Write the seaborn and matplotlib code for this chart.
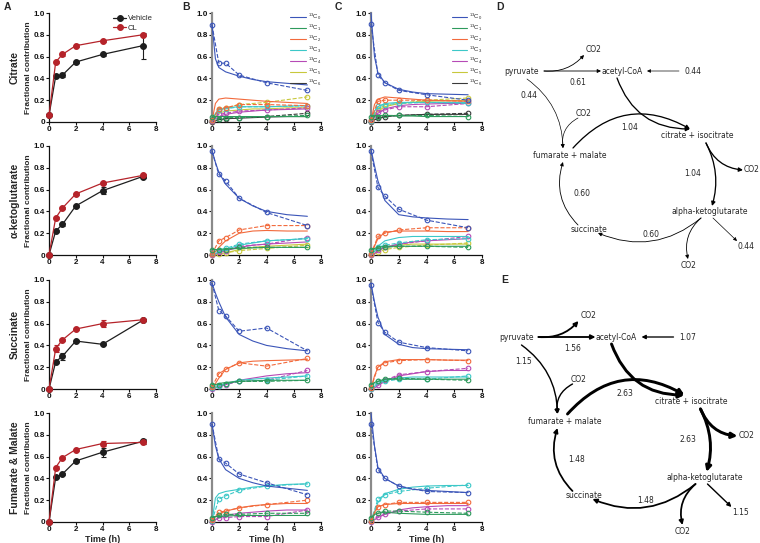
import matplotlib
matplotlib.use('Agg')
import matplotlib.pyplot as plt
import seaborn as sns

# ---------------- data ----------------
TIMES = [0, 0.5, 1, 2, 4, 7]
FIT_T = [0, 0.25, 0.5, 1, 2, 3, 4, 5.5, 7]
METABOLITES = ['Citrate', 'α-ketoglutarate', 'Succinate', 'Fumarate & Malate']
X_TICKS = [0, 2, 4, 6, 8]
Y_TICKS = [0, 0.2, 0.4, 0.6, 0.8, 1.0]
Y_TICK_LABELS = ['0', '0.2', '0.4', '0.6', '0.8', '1.0']

# Panel A: fractional contribution (mean, error)
veh_citrate = [0.06, 0.42, 0.43, 0.55, 0.62, 0.70]
veh_citrate_err = [0, 0.01, 0.02, 0.01, 0.01, 0.12]
cl_citrate = [0.06, 0.55, 0.62, 0.70, 0.745, 0.80]
cl_citrate_err = [0, 0.01, 0.01, 0.015, 0.01, 0.01]
veh_akg = [0.0, 0.22, 0.28, 0.45, 0.59, 0.72]
veh_akg_err = [0, 0.01, 0.01, 0.01, 0.03, 0.01]
cl_akg = [0.0, 0.34, 0.43, 0.56, 0.66, 0.73]
cl_akg_err = [0, 0.01, 0.01, 0.01, 0.01, 0.01]
veh_succ = [0.0, 0.25, 0.30, 0.44, 0.41, 0.63]
veh_succ_err = [0, 0.01, 0.03, 0.01, 0.01, 0.01]
cl_succ = [0.0, 0.37, 0.45, 0.55, 0.60, 0.635]
cl_succ_err = [0, 0.03, 0.01, 0.01, 0.03, 0.01]
veh_fum = [0.0, 0.41, 0.44, 0.56, 0.64, 0.74]
veh_fum_err = [0, 0.01, 0.01, 0.01, 0.04, 0.02]
cl_fum = [0.0, 0.50, 0.59, 0.665, 0.72, 0.73]
cl_fum_err = [0, 0.01, 0.01, 0.01, 0.02, 0.01]

# Panels B (vehicle) and C (CL): isotopologue fits (solid) and measurements (dashed)
b_citrate_fit = [
    [0.90, 0.58, 0.50, 0.46, 0.42, 0.39, 0.37, 0.355, 0.34],
    [0.04, 0.05, 0.05, 0.05, 0.05, 0.05, 0.05, 0.05, 0.05],
    [0.01, 0.17, 0.21, 0.22, 0.21, 0.20, 0.19, 0.18, 0.17],
    [0.01, 0.08, 0.11, 0.13, 0.14, 0.14, 0.14, 0.145, 0.15],
    [0.0, 0.03, 0.05, 0.07, 0.09, 0.10, 0.11, 0.115, 0.12],
    [0.0, 0.05, 0.08, 0.10, 0.11, 0.12, 0.12, 0.13, 0.13],
    [0.0, 0.01, 0.02, 0.03, 0.035, 0.04, 0.045, 0.05, 0.05]]
b_citrate_meas = [
    [0.89, 0.54, 0.54, 0.43, 0.36, 0.29],
    [0.05, 0.03, 0.04, 0.04, 0.05, 0.06],
    [0.02, 0.12, 0.13, 0.16, 0.16, 0.15],
    [0.02, 0.11, 0.12, 0.14, 0.14, 0.15],
    [0.01, 0.07, 0.08, 0.10, 0.11, 0.13],
    [0.01, 0.12, 0.13, 0.16, 0.18, 0.23],
    [0.00, 0.03, 0.03, 0.04, 0.05, 0.08]]
c_citrate_fit = [
    [1.0, 0.60, 0.45, 0.36, 0.30, 0.275, 0.26, 0.255, 0.25],
    [0.06, 0.06, 0.06, 0.06, 0.055, 0.055, 0.05, 0.05, 0.05],
    [0.01, 0.16, 0.21, 0.23, 0.22, 0.21, 0.20, 0.195, 0.19],
    [0.01, 0.10, 0.14, 0.17, 0.18, 0.18, 0.18, 0.18, 0.18],
    [0.0, 0.04, 0.08, 0.12, 0.15, 0.16, 0.165, 0.17, 0.17],
    [0.0, 0.06, 0.10, 0.14, 0.17, 0.18, 0.19, 0.195, 0.20],
    [0.0, 0.02, 0.03, 0.05, 0.06, 0.065, 0.07, 0.07, 0.07]]
c_citrate_meas = [
    [0.90, 0.43, 0.36, 0.29, 0.25, 0.20],
    [0.05, 0.05, 0.06, 0.06, 0.06, 0.05],
    [0.02, 0.19, 0.20, 0.20, 0.20, 0.19],
    [0.01, 0.15, 0.16, 0.17, 0.18, 0.17],
    [0.01, 0.09, 0.11, 0.14, 0.14, 0.17],
    [0.01, 0.12, 0.15, 0.17, 0.20, 0.22],
    [0.00, 0.04, 0.05, 0.06, 0.07, 0.08]]
b_akg_fit = [
    [0.96, 0.85, 0.76, 0.65, 0.52, 0.45, 0.40, 0.37, 0.355],
    [0.05, 0.05, 0.05, 0.055, 0.06, 0.065, 0.07, 0.07, 0.07],
    [0.0, 0.03, 0.07, 0.13, 0.20, 0.22, 0.225, 0.22, 0.22],
    [0.0, 0.01, 0.03, 0.05, 0.09, 0.11, 0.13, 0.14, 0.15],
    [0.0, 0.01, 0.02, 0.04, 0.07, 0.09, 0.10, 0.11, 0.12],
    [0.0, 0.0, 0.01, 0.02, 0.05, 0.07, 0.08, 0.09, 0.10]]
b_akg_meas = [
    [0.95, 0.74, 0.68, 0.52, 0.39, 0.27],
    [0.05, 0.05, 0.05, 0.07, 0.07, 0.07],
    [0.01, 0.13, 0.16, 0.23, 0.27, 0.27],
    [0.01, 0.05, 0.06, 0.10, 0.13, 0.15],
    [0.00, 0.03, 0.04, 0.08, 0.10, 0.16],
    [0.00, 0.01, 0.02, 0.04, 0.06, 0.09]]
c_akg_fit = [
    [0.97, 0.82, 0.68, 0.50, 0.37, 0.35, 0.34, 0.33, 0.325],
    [0.05, 0.06, 0.07, 0.08, 0.08, 0.08, 0.08, 0.08, 0.08],
    [0.0, 0.08, 0.15, 0.21, 0.22, 0.22, 0.22, 0.215, 0.215],
    [0.0, 0.03, 0.08, 0.13, 0.16, 0.17, 0.17, 0.17, 0.17],
    [0.0, 0.01, 0.04, 0.07, 0.10, 0.12, 0.13, 0.14, 0.15],
    [0.0, 0.01, 0.04, 0.07, 0.09, 0.10, 0.10, 0.10, 0.10]]
c_akg_meas = [
    [0.95, 0.62, 0.54, 0.42, 0.32, 0.25],
    [0.05, 0.06, 0.07, 0.08, 0.08, 0.07],
    [0.01, 0.17, 0.20, 0.23, 0.25, 0.25],
    [0.01, 0.07, 0.09, 0.11, 0.14, 0.15],
    [0.00, 0.05, 0.07, 0.10, 0.13, 0.17],
    [0.00, 0.03, 0.05, 0.07, 0.09, 0.11]]
b_succ_fit = [
    [0.97, 0.88, 0.80, 0.66, 0.50, 0.44, 0.40, 0.37, 0.35],
    [0.04, 0.04, 0.05, 0.06, 0.07, 0.075, 0.08, 0.08, 0.08],
    [0.0, 0.05, 0.10, 0.18, 0.24, 0.255, 0.26, 0.265, 0.27],
    [0.0, 0.01, 0.03, 0.05, 0.08, 0.09, 0.10, 0.11, 0.12],
    [0.0, 0.01, 0.02, 0.04, 0.08, 0.10, 0.12, 0.14, 0.15]]
b_succ_meas = [
    [0.97, 0.72, 0.67, 0.53, 0.56, 0.35],
    [0.04, 0.04, 0.05, 0.07, 0.07, 0.08],
    [0.02, 0.14, 0.18, 0.24, 0.21, 0.28],
    [0.01, 0.03, 0.05, 0.07, 0.08, 0.12],
    [0.00, 0.03, 0.04, 0.07, 0.08, 0.17]]
c_succ_fit = [
    [0.97, 0.80, 0.66, 0.50, 0.41, 0.38, 0.37, 0.365, 0.36],
    [0.04, 0.06, 0.07, 0.09, 0.09, 0.09, 0.09, 0.09, 0.09],
    [0.0, 0.12, 0.20, 0.25, 0.27, 0.27, 0.27, 0.265, 0.265],
    [0.0, 0.02, 0.05, 0.08, 0.10, 0.11, 0.11, 0.11, 0.11],
    [0.0, 0.01, 0.03, 0.07, 0.12, 0.14, 0.16, 0.17, 0.17]]
c_succ_meas = [
    [0.95, 0.61, 0.52, 0.43, 0.38, 0.35],
    [0.04, 0.07, 0.09, 0.10, 0.09, 0.08],
    [0.01, 0.20, 0.24, 0.26, 0.27, 0.26],
    [0.00, 0.07, 0.07, 0.09, 0.09, 0.12],
    [0.00, 0.04, 0.08, 0.13, 0.16, 0.19]]
b_fum_fit = [
    [0.90, 0.70, 0.58, 0.48, 0.40, 0.36, 0.33, 0.31, 0.29],
    [0.04, 0.05, 0.05, 0.055, 0.06, 0.06, 0.06, 0.06, 0.06],
    [0.0, 0.05, 0.07, 0.10, 0.13, 0.15, 0.16, 0.17, 0.17],
    [0.0, 0.22, 0.26, 0.28, 0.30, 0.32, 0.33, 0.345, 0.35],
    [0.0, 0.02, 0.04, 0.06, 0.08, 0.09, 0.10, 0.11, 0.11]]
b_fum_meas = [
    [0.90, 0.58, 0.54, 0.44, 0.36, 0.25],
    [0.04, 0.06, 0.07, 0.07, 0.08, 0.08],
    [0.02, 0.09, 0.10, 0.13, 0.16, 0.20],
    [0.01, 0.21, 0.24, 0.29, 0.33, 0.35],
    [0.00, 0.04, 0.04, 0.05, 0.05, 0.11]]
c_fum_fit = [
    [1.0, 0.70, 0.50, 0.40, 0.33, 0.30, 0.29, 0.28, 0.27],
    [0.04, 0.07, 0.08, 0.09, 0.08, 0.075, 0.07, 0.07, 0.07],
    [0.0, 0.09, 0.14, 0.16, 0.17, 0.17, 0.17, 0.17, 0.17],
    [0.0, 0.09, 0.18, 0.26, 0.30, 0.32, 0.33, 0.335, 0.335],
    [0.0, 0.02, 0.04, 0.07, 0.11, 0.13, 0.14, 0.15, 0.15]]
c_fum_meas = [
    [0.90, 0.48, 0.40, 0.33, 0.28, 0.27],
    [0.04, 0.08, 0.10, 0.10, 0.09, 0.08],
    [0.01, 0.14, 0.16, 0.18, 0.18, 0.18],
    [0.01, 0.21, 0.25, 0.28, 0.31, 0.34],
    [0.00, 0.05, 0.07, 0.10, 0.12, 0.12]]

ISO_LABELS = [r'$^{13}$C$_{%d}$' % i for i in range(7)]

# Panels D (vehicle) and E (CL): fluxes
FLUX_NAMES = ['PDH', 'PC', 'AcCoA influx', 'CS', 'IDH', 'AKGDH', 'SDH', 'AKG efflux']
flux_d = [0.61, 0.44, 0.44, 1.04, 1.04, 0.60, 0.60, 0.44]
flux_e = [1.56, 1.15, 1.07, 2.63, 2.63, 1.48, 1.48, 1.15]

# ---------------- style ----------------
sns.set_theme(style='ticks')
plt.rcParams['font.family'] = ['Liberation Sans', 'DejaVu Sans']
plt.rcParams['mathtext.fontset'] = 'custom'
plt.rcParams['mathtext.rm'] = 'Liberation Sans'

ISO_COLORS = ['#3b55b8', '#2e9a5c', '#f26a3c', '#3cc8c8', '#b64ab6', '#c8c83c', '#3a3a3a']
VEH_COLOR = '#1e1e1e'
CL_COLOR = '#b5232a'

W, H = 760, 543
fig = plt.figure(figsize=(W / 100, H / 100), dpi=100)


def add_ax(x0, top, w, h):
    return fig.add_axes([x0 / W, 1 - (top + h) / H, w / W, h / H])


def style_ax(ax, gray_left=False):
    ax.set_xlim(0, 8)
    ax.set_ylim(0, 1.0)
    ax.set_xticks(X_TICKS)
    ax.set_xticklabels([str(t) for t in X_TICKS])
    ax.set_yticks(Y_TICKS)
    ax.set_yticklabels(Y_TICK_LABELS)
    sns.despine(ax=ax)
    for lab in ax.get_xticklabels() + ax.get_yticklabels():
        lab.set_fontweight('bold')
        lab.set_fontsize(5.8)
    ax.tick_params(length=2, width=0.8, pad=1, colors='#111111')
    ax.spines['bottom'].set_linewidth(0.9)
    ax.spines['bottom'].set_color('#111111')
    if gray_left:
        ax.spines['left'].set_linewidth(1.6)
        ax.spines['left'].set_color('#8a8a8a')
    else:
        ax.spines['left'].set_linewidth(0.9)
        ax.spines['left'].set_color('#111111')
    ax.set_xlabel('')
    ax.set_ylabel('')


ROW_TOPS = [13, 146, 280, 413]
ROW_H = 109
A_X, A_W = 49, 107
B_X, B_W = 212, 109
C_X, C_W = 371, 111

panel_a = [(veh_citrate, veh_citrate_err, cl_citrate, cl_citrate_err),
           (veh_akg, veh_akg_err, cl_akg, cl_akg_err),
           (veh_succ, veh_succ_err, cl_succ, cl_succ_err),
           (veh_fum, veh_fum_err, cl_fum, cl_fum_err)]
panel_b = [(b_citrate_fit, b_citrate_meas), (b_akg_fit, b_akg_meas),
           (b_succ_fit, b_succ_meas), (b_fum_fit, b_fum_meas)]
panel_c = [(c_citrate_fit, c_citrate_meas), (c_akg_fit, c_akg_meas),
           (c_succ_fit, c_succ_meas), (c_fum_fit, c_fum_meas)]

for r, top in enumerate(ROW_TOPS):
    # ---- A ----
    ax = add_ax(A_X, top, A_W, ROW_H)
    veh, veh_err, cl, cl_err = panel_a[r]
    for vals, errs, col, lab in [(veh, veh_err, VEH_COLOR, 'Vehicle'), (cl, cl_err, CL_COLOR, 'CL')]:
        ax.errorbar(TIMES, vals, yerr=errs, fmt='none', ecolor=col, elinewidth=0.8,
                    capsize=1.8, capthick=0.8, clip_on=False, zorder=3)
        sns.lineplot(x=TIMES, y=vals, ax=ax, color=col, lw=0.9, marker='o', markersize=4.2,
                     markeredgecolor=col, markerfacecolor=col, label=lab, clip_on=False, zorder=4)
    style_ax(ax)
    if r == 0:
        ax.legend(loc='upper right', bbox_to_anchor=(1.02, 1.03), frameon=False, fontsize=5.5,
                  handlelength=1.6, handletextpad=0.3, labelspacing=0.3, borderpad=0.2)
    elif ax.get_legend():
        ax.get_legend().remove()
    yc = 1 - (top + ROW_H / 2) / H
    fig.text(15 / W, yc, METABOLITES[r], rotation=90, ha='center', va='center',
             fontsize=7.5, fontweight='bold')
    fig.text(29 / W, yc, 'Fractional contribution', rotation=90, ha='center', va='center',
             fontsize=6, fontweight='bold')
    if r == 3:
        ax.set_xlabel('Time (h)', fontsize=6.5, fontweight='bold', labelpad=1)

    # ---- B and C ----
    for (x0, w, data) in [(B_X, B_W, panel_b[r]), (C_X, C_W, panel_c[r])]:
        ax = add_ax(x0, top, w, ROW_H)
        fits, meas = data
        for i in range(len(fits) - 1, -1, -1):
            col = ISO_COLORS[i]
            sns.lineplot(x=TIMES, y=meas[i], ax=ax, color=col, lw=0.8, linestyle='--',
                         marker='o', markersize=3.3, markerfacecolor='none',
                         markeredgecolor=col, markeredgewidth=0.8, clip_on=False, zorder=3)
            sns.lineplot(x=FIT_T, y=fits[i], ax=ax, color=col, lw=0.8,
                         label=ISO_LABELS[i] if r == 0 else None, clip_on=False, zorder=3)
        style_ax(ax, gray_left=True)
        if r == 0:
            h, l = ax.get_legend_handles_labels()
            ax.legend(h[::-1], l[::-1], loc='upper right', bbox_to_anchor=(1.04, 1.04),
                      frameon=False, fontsize=4.3, handlelength=2.6, handletextpad=0.4,
                      labelspacing=0.12, borderpad=0.1)
        elif ax.get_legend():
            ax.get_legend().remove()
        if r == 3:
            ax.set_xlabel('Time (h)', fontsize=6.5, fontweight='bold', labelpad=1)

# panel letters
for letter, (px, py) in zip('ABCDE', [(7, 7), (186, 7), (338, 7), (500, 7), (505, 280)]):
    fig.text(px / W, 1 - py / H, letter, fontsize=7.5, fontweight='bold', ha='center', va='center')

# ---------------- network diagrams ----------------
nax = fig.add_axes([490 / W, 0, 270 / W, 1])
nax.set_xlim(490, 760)
nax.set_ylim(543, 0)
nax.axis('off')

FS = 5.5


def arrow(ax, start, end, flux, rad=0.0):
    lw = 0.15 + 0.75 * flux
    ax.annotate('', xy=end, xytext=start,
                arrowprops=dict(arrowstyle='-|>', lw=lw, color='black',
                                connectionstyle='arc3,rad=%s' % rad,
                                shrinkA=0, shrinkB=0,
                                mutation_scale=4.5 + 1.3 * flux))


def network(ax, ox, oy, fl):
    pdh, pc, acin, cs, idh, akgdh, sdh, akgout = fl

    def P(x, y):
        return (x + ox, y + oy)

    def T(x, y, s):
        ax.text(x + ox, y + oy, s, fontsize=FS, ha='center', va='center',
                family='DejaVu Sans')

    T(521.7, 71, 'pyruvate')
    T(594, 49, 'CO2')
    T(621.7, 71, 'acetyl-CoA')
    T(692.7, 71, '%.2f' % acin)
    T(578, 82.7, '%.2f' % pdh)
    T(529, 95, '%.2f' % pc)
    T(584, 113, 'CO2')
    T(630, 127.7, '%.2f' % cs)
    T(697, 136, 'citrate + isocitrate')
    T(570, 155.7, 'fumarate + malate')
    T(751.7, 170, 'CO2')
    T(693, 173, '%.2f' % idh)
    T(581.7, 193, '%.2f' % sdh)
    T(710, 211.7, 'alpha-ketoglutarate')
    T(589, 230, 'succinate')
    T(650.7, 234.3, '%.2f' % akgdh)
    T(746, 246.7, '%.2f' % akgout)
    T(688.3, 265, 'CO2')

    arrow(ax, P(544, 71), P(601, 71), pdh)
    arrow(ax, P(544, 71), P(584, 55), pdh, rad=0.25)
    arrow(ax, P(679, 71), P(647, 71), acin)
    arrow(ax, P(527, 79), P(563, 148), pc, rad=-0.25)
    arrow(ax, P(578, 118), P(563, 148), pc, rad=0.35)
    arrow(ax, P(617, 78), P(690, 129), cs, rad=0.35)
    arrow(ax, P(573, 148), P(690, 129), cs, rad=-0.4)
    arrow(ax, P(706, 143), P(743, 170), idh, rad=0.3)
    arrow(ax, P(706, 143), P(712, 206), idh, rad=-0.2)
    arrow(ax, P(701, 218), P(598, 233), akgdh, rad=-0.3)
    arrow(ax, P(701, 218), P(688, 259), akgdh, rad=0.3)
    arrow(ax, P(713, 218), P(737, 241), akgout)
    arrow(ax, P(578, 225), P(563, 162), sdh, rad=-0.3)


network(nax, 0, 0, flux_d)
network(nax, -5.5, 266, flux_e)

fig.savefig('out.png', dpi=100)
